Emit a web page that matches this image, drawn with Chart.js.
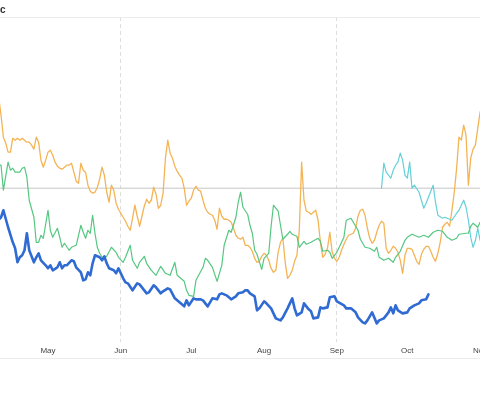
<!DOCTYPE html>
<html><head><meta charset="utf-8">
<script src="https://cdn.jsdelivr.net/npm/chart.js@4.4.1/dist/chart.umd.min.js"></script>
<style>
html,body{margin:0;padding:0;background:#fff;overflow:hidden;width:480px;height:396px;}
#wrap{position:absolute;left:0;top:0;width:540px;height:396px;}
</style></head><body>
<div id="wrap"><canvas id="c"></canvas></div>
<script>
// x values are day-of-year (Jan 1 = 0)
const monthDays = [91,120,151,181,212,243,273,304,334];
const monthLabels = ['Apr','May','Jun','Jul','Aug','Sep','Oct','Nov','Dec'];
const quarterDays = [151,243];
const titleText = 'c';

const refDays = [95,335];
const refValues = [154,154];

const blueDays = [98,100,101,103,105,106,107,108,109,110,111,112,114,115,116,117,119,120,121,122,124,125,126,127,128,130,131,132,134,135,136,137,138,139,140,142,143,144,145,146,148,149,150,152,153,154,156,158,159,160,162,163,165,166,168,169,171,172,174,176,178,179,180,182,183,185,186,188,189,190,192,193,194,196,198,200,201,203,204,205,206,208,209,210,212,213,215,216,217,219,220,222,224,225,226,228,229,231,232,233,235,236,237,239,240,242,243,246,247,249,251,252,254,255,256,258,260,261,263,265,266,267,268,269,271,273,274,276,278,279,281,282];
const blueValues = [120,125,132,115,100,94,80,85,87,92,109,92,80,85,89,82,77,74,77,72,75,80,74,77,77,82,81,75,70,62,63,70,67,79,87,85,82,86,79,74,72,69,74,64,60,59,52,59,58,55,49,50,57,55,49,51,54,53,44,40,36,42,37,44,43,43,42,36,40,44,43,48,49,47,43,46,49,50,52,52,49,46,32,34,41,39,34,29,24,22,25,34,44,34,27,30,39,33,31,24,25,35,34,35,45,46,41,37,34,34,30,25,20,19,22,30,19,22,24,30,35,29,37,32,29,30,34,37,39,42,43,48];

const greenDays = [98,100,101,103,104,105,106,108,109,110,111,112,114,115,116,117,118,120,121,122,124,125,126,127,129,130,132,133,134,135,136,137,138,139,140,141,142,143,145,147,149,150,152,153,155,156,158,159,161,162,164,166,168,170,172,174,175,178,179,180,182,183,186,187,188,190,191,192,194,195,197,198,200,201,202,203,205,206,207,208,209,211,212,214,215,216,218,219,220,222,223,224,226,227,229,230,232,235,236,237,239,240,241,243,244,246,247,249,250,252,253,255,257,259,260,261,263,265,267,268,270,272,273,275,278,280,282,284,286,288,290,292,294,295,298,299,300,301,303,304,306];
const greenValues = [177,177,152,180,172,174,170,170,174,175,165,142,125,100,100,107,104,132,112,105,114,105,95,99,92,95,97,107,117,110,104,112,109,127,109,95,89,85,86,95,90,85,80,85,97,82,74,80,86,79,72,67,76,69,67,80,67,61,52,47,46,62,75,84,82,75,68,61,77,97,112,110,125,140,150,135,128,117,109,92,88,73,84,89,116,137,131,117,103,108,111,108,106,95,101,98,100,104,101,91,92,90,84,90,95,105,122,124,120,112,103,95,94,91,95,85,82,84,80,85,91,102,105,108,105,107,105,110,112,111,105,102,104,108,109,109,116,119,115,120,122];

const tealDays = [262,263,264,266,267,268,269,270,271,272,273,274,275,276,278,280,281,282,284,285,286,288,289,290,292,294,295,296,297,298,299,300,301,302,303,304,305];
const tealValues = [154,179,170,164,172,177,180,189,182,167,164,180,154,157,150,134,139,145,157,140,127,124,125,124,122,129,132,137,142,135,122,105,95,102,114,102,106];

const orangeDays = [98,99,100,101,102,103,104,105,106,107,108,109,110,111,112,113,114,115,116,117,118,119,120,121,122,123,124,125,126,127,128,129,130,131,132,133,134,135,136,137,138,139,140,141,142,143,144,145,146,147,148,149,150,151,152,153,154,155,156,157,158,159,160,161,162,163,164,165,166,167,168,169,170,171,172,173,174,175,176,177,178,179,180,181,182,183,184,185,186,187,188,189,190,191,192,193,194,195,196,197,198,199,200,201,202,203,204,205,206,207,208,209,210,211,212,213,214,215,216,217,218,219,220,221,222,223,224,225,226,227,228,229,230,231,232,233,234,235,236,237,238,239,240,241,242,243,244,245,246,247,248,249,250,251,252,253,254,255,256,257,258,259,260,261,262,263,264,265,266,267,268,269,270,271,272,273,274,275,276,277,278,279,280,281,282,283,284,285,286,287,288,289,290,291,292,293,294,295,296,297,298,299,300,301,302,303,304,305,306];
const orangeValues = [255,245,227,205,199,190,190,204,202,204,202,204,202,200,200,197,193,205,200,182,175,182,190,192,187,180,176,174,173,175,177,177,179,170,161,159,179,172,170,157,151,149,150,155,163,175,167,150,140,157,152,139,133,129,125,121,116,112,124,137,126,116,126,136,143,139,142,155,148,134,137,149,184,202,189,184,176,171,167,164,154,137,141,144,152,156,152,151,142,134,130,128,127,122,113,134,126,123,123,122,120,114,107,104,103,105,97,97,95,91,84,80,81,86,89,87,82,74,70,72,90,100,104,80,64,67,72,81,87,112,180,142,131,130,128,130,132,122,100,85,88,94,110,90,84,81,85,92,98,103,107,108,109,114,126,132,133,127,114,104,99,102,110,117,121,119,94,89,92,96,94,90,82,69,87,94,94,93,87,81,78,88,93,96,96,91,85,81,89,100,115,118,120,116,132,150,174,205,202,217,207,157,184,193,197,214,230,237,242];

const toPoints = (days, vals) => days.map((d, i) => ({x: d, y: vals[i]}));
const FONT = 'Helvetica, Arial, "Liberation Sans", sans-serif';

const frameLines = {
  id: 'frameLines',
  beforeDatasetsDraw(chart) {
    const {ctx, chartArea, scales} = chart;
    ctx.save();
    ctx.strokeStyle = '#ececec';
    ctx.lineWidth = 1;
    ctx.beginPath();
    const yTop = Math.round(chartArea.top) + 0.5;
    const yBot = Math.round(scales.x.bottom) - 1.5;
    ctx.moveTo(0, yTop); ctx.lineTo(chart.width, yTop);
    ctx.moveTo(0, yBot); ctx.lineTo(chart.width, yBot);
    ctx.stroke();
    ctx.restore();
  }
};

const common = {pointRadius: 0, pointHoverRadius: 0, tension: 0, fill: false, borderJoinStyle: 'round', borderCapStyle: 'round'};

new Chart(document.getElementById('c'), {
  type: 'line',
  data: {
    datasets: [
      Object.assign({label: 'Blue', data: toPoints(blueDays, blueValues), borderColor: '#2f6bd2', borderWidth: 2.6}, common),
      Object.assign({label: 'Green', data: toPoints(greenDays, greenValues), borderColor: '#55c781', borderWidth: 1.2}, common),
      Object.assign({label: 'Teal', data: toPoints(tealDays, tealValues), borderColor: '#66d0d8', borderWidth: 1.2}, common),
      Object.assign({label: 'Orange', data: toPoints(orangeDays, orangeValues), borderColor: '#f4b455', borderWidth: 1.3}, common),
      Object.assign({label: 'Reference', data: toPoints(refDays, refValues), borderColor: '#c6c6c6', borderWidth: 1}, common)
    ]
  },
  options: {
    animation: false,
    responsive: true,
    maintainAspectRatio: false,
    layout: {padding: {left: 0, right: 0, top: 0, bottom: 36}},
    plugins: {
      legend: {display: false},
      tooltip: {enabled: false},
      title: {display: true, text: titleText, align: 'start', color: '#333', font: {size: 10, weight: '600', family: FONT}, padding: {top: 4, bottom: 1}}
    },
    scales: {
      x: {
        type: 'linear', min: 99.56, max: 329.5,
        afterBuildTicks: s => { s.ticks = monthDays.filter(d => d >= s.min && d <= s.max).map(v => ({value: v})); },
        ticks: {autoSkip: false, maxRotation: 0, padding: 4, color: '#444', font: {size: 8, family: FONT},
          callback: v => monthLabels[monthDays.indexOf(v)]},
        grid: {drawTicks: false, lineWidth: 1,
          color: ctx => (ctx.tick && quarterDays.includes(ctx.tick.value)) ? '#dedede' : 'rgba(0,0,0,0)'},
        border: {display: false, dash: [4, 3]}
      },
      y: {type: 'linear', min: 0, max: 325, display: false}
    }
  },
  plugins: [frameLines]
});
</script>
</body></html>
